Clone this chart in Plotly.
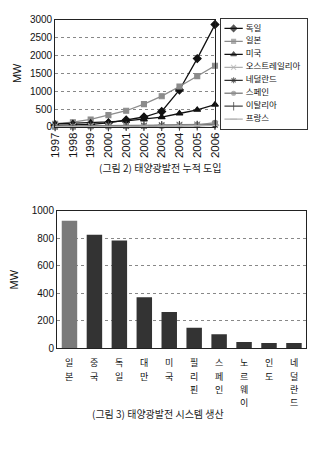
import plotly.graph_objects as go

years = ["1997", "1998", "1999", "2000", "2001", "2002", "2003", "2004", "2005", "2006"]
germany = [42, 54, 70, 114, 195, 278, 431, 1034, 1910, 2863]
japan = [91, 133, 209, 330, 453, 637, 860, 1132, 1422, 1709]
usa = [88, 100, 117, 139, 168, 212, 275, 376, 479, 624]
australia = [22, 25, 29, 34, 39, 46, 52, 61, 70, 82]
netherlands = [4, 6, 9, 13, 21, 26, 46, 49, 51, 53]
spain = [1, 2, 9, 12, 16, 20, 27, 37, 58, 118]
italy = [17, 18, 18, 19, 20, 22, 26, 31, 38, 50]
france = [8, 9, 9, 11, 14, 17, 21, 26, 33, 44]

line_names = ["독일", "일본", "미국", "오스트레일리아", "네덜란드", "스페인", "이탈리아", "프랑스"]
line_values = [germany, japan, usa, australia, netherlands, spain, italy, france]

bar_countries = ["일본", "중국", "독일", "대만", "미국", "필리핀", "스페인", "노르웨이", "인도", "네덜란드"]
bar_values = [928, 826, 784, 372, 264, 150, 102, 46, 40, 40]

line_styles = [
    dict(color="#111111", symbol="diamond", size=6),
    dict(color="#8c8c8c", symbol="square", size=5),
    dict(color="#111111", symbol="triangle-up", size=6),
    dict(color="#b0b0b0", symbol="x-thin-open", size=6),
    dict(color="#333333", symbol="asterisk-open", size=6),
    dict(color="#8c8c8c", symbol="circle", size=5),
    dict(color="#444444", symbol="line-ns-open", size=7),
    dict(color="#b0b0b0", symbol="line-ew-open", size=6),
]

FONT = "Noto Sans CJK KR, Arial, sans-serif"
NUMFONT = "Liberation Sans, Arial, sans-serif"

fig = go.Figure()
for name, vals, st in zip(line_names, line_values, line_styles):
    fig.add_trace(go.Scatter(
        x=years, y=vals, name=name, mode="lines+markers",
        line=dict(color=st["color"], width=1.3),
        marker=dict(color=st["color"], symbol=st["symbol"], size=st["size"],
                    line=dict(color=st["color"], width=1.1)),
        cliponaxis=False, xaxis="x", yaxis="y", showlegend=False,
    ))

# compact legend drawn in its own small axis box (positions derived from entry index)
for i, (name, st) in enumerate(zip(line_names, line_styles)):
    fig.add_trace(go.Scatter(
        x=[4, 13.5, 23], y=[i, i, i], mode="lines+markers",
        line=dict(color=st["color"], width=1.3),
        marker=dict(color=st["color"], symbol=st["symbol"], size=[0, st["size"] - 1, 0],
                    line=dict(color=st["color"], width=1.1)),
        xaxis="x3", yaxis="y3", showlegend=False, hoverinfo="skip", cliponaxis=False,
    ))
    fig.add_trace(go.Scatter(
        x=[26], y=[i], mode="text", text=[name], textposition="middle right",
        textfont=dict(family=FONT, size=8.5, color="#111111"),
        xaxis="x3", yaxis="y3", showlegend=False, hoverinfo="skip", cliponaxis=False,
    ))

bar_colors = ["#7a7a7a"] + ["#333333"] * (len(bar_countries) - 1)
fig.add_trace(go.Bar(
    x=bar_countries, y=bar_values, marker=dict(color=bar_colors, line=dict(width=0)),
    showlegend=False, xaxis="x2", yaxis="y2",
))

# vertical (stacked, upright) category labels: one annotation per character
LABEL_SIZE = 9
LABEL_STEP = 13.2
annotations = []
for c in bar_countries:
    for j, ch in enumerate(c):
        annotations.append(dict(
            text=ch, x=c, xref="x2", y=0, yref="y2", yanchor="top",
            yshift=-(6 + j * LABEL_STEP), showarrow=False,
            font=dict(family=FONT, size=LABEL_SIZE, color="#111111"),
        ))

annotations += [
    dict(text="(그림 2) 태양광발전 누적 도입", x=0.495, y=1 - 167 / 449,
         xref="paper", yref="paper", showarrow=False,
         font=dict(family=FONT, size=10, color="#222222")),
    dict(text="(그림 3) 태양광발전 시스템 생산", x=0.49, y=1 - 429 / 449,
         xref="paper", yref="paper", showarrow=False,
         font=dict(family=FONT, size=10, color="#222222")),
]

axis_common = dict(
    showline=True, linecolor="#222222", linewidth=1, mirror=True,
    ticks="", tickfont=dict(family=NUMFONT, size=10, color="#111111"),
)

fig.update_layout(
    width=323, height=449,
    margin=dict(l=0, r=0, t=0, b=0),
    paper_bgcolor="white", plot_bgcolor="white",
    font=dict(family=FONT, color="#111111"),
    bargap=0.38,
    showlegend=False,
    xaxis=dict(domain=[0.158, 0.672], anchor="y", type="category",
               range=[0, 9], tickangle=-90, showgrid=False,
               **{**axis_common, "tickfont": dict(family=NUMFONT, size=11.5, color="#111111")}),
    yaxis=dict(domain=[0.7216, 0.9666], anchor="x", range=[0, 3000],
               tickvals=[0, 500, 1000, 1500, 2000, 2500, 3000],
               showgrid=True, gridcolor="#888888", griddash="dot", gridwidth=1,
               title=dict(text="MW", font=dict(family=NUMFONT, size=11), standoff=6),
               **axis_common),
    xaxis2=dict(domain=[0.164, 0.966], anchor="y2", type="category",
                showticklabels=False, showgrid=False, **axis_common),
    yaxis2=dict(domain=[0.216, 0.530], anchor="x2", range=[0, 1000],
                tickvals=[0, 200, 400, 600, 800, 1000],
                showgrid=True, gridcolor="#888888", griddash="dot", gridwidth=1,
                title=dict(text="MW", font=dict(family=NUMFONT, size=11), standoff=10),
                **axis_common),
    xaxis3=dict(domain=[0.690, 0.969], anchor="y3", range=[0, 90],
                showline=True, linecolor="#333333", linewidth=1, mirror=True,
                showgrid=False, zeroline=False, showticklabels=False, ticks="",
                fixedrange=True),
    yaxis3=dict(domain=[0.7171, 0.9688], anchor="x3", range=[7.75, -0.75],
                showline=True, linecolor="#333333", linewidth=1, mirror=True,
                showgrid=False, zeroline=False, showticklabels=False, ticks="",
                fixedrange=True),
    annotations=annotations,
)

fig.write_html("out.html")
